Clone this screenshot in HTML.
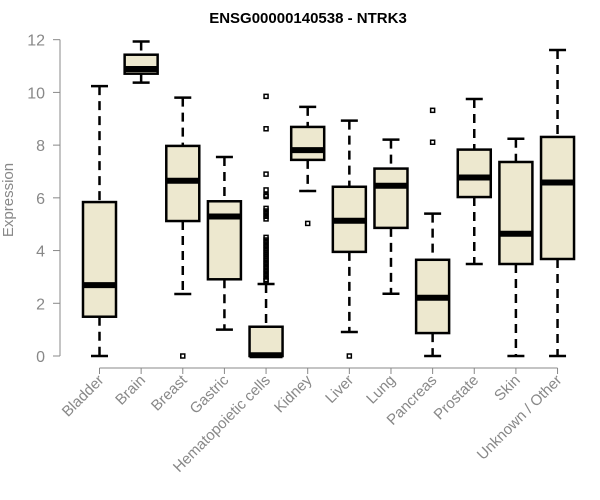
<!DOCTYPE html>
<html><head><meta charset="utf-8"><style>body{margin:0;background:#fff}svg{display:block;font-family:"Liberation Sans",Arial,sans-serif}</style></head>
<body>
<svg id="chart" width="600" height="500" viewBox="0 0 600 500">
<text x="308" y="23" text-anchor="middle" font-size="15" font-weight="bold">ENSG00000140538 - NTRK3</text>
<text transform="translate(13,200) rotate(-90)" text-anchor="middle" font-size="15" fill="#888">Expression</text>
<g id="axes"></g><g id="marks"></g>
</svg>
<script>
const categories=["Bladder","Brain","Breast","Gastric","Hematopoietic cells","Kidney","Liver","Lung","Pancreas","Prostate","Skin","Unknown / Other"];
const mins=[0,10.37,2.35,1.0,0,6.26,0.91,2.36,0,3.49,0,0];
const q1s=[1.49,10.71,5.12,2.91,0,7.44,3.95,4.86,0.87,6.03,3.49,3.68];
const medians=[2.69,10.89,6.65,5.29,0.03,7.81,5.13,6.46,2.21,6.77,4.64,6.58];
const q3s=[5.84,11.43,7.97,5.87,1.11,8.69,6.42,7.11,3.65,7.83,7.36,8.31];
const maxs=[10.24,11.93,9.8,7.55,2.73,9.45,8.93,8.21,5.4,9.75,8.24,11.61];
const outliers=[[],[],[0],[],[9.85,8.62,6.9,6.3,6.1,6.05,5.6,5.5,5.4,5.3,5.2,4.5,4.4,4.3,4.2,4.1,4.0,3.9,3.8,3.7,3.6,3.5,3.4,3.3,3.2,3.1,3.0,2.9,2.85],[5.03],[0],[],[9.32,8.11],[],[],[]];
const yTicks=[0,2,4,6,8,10,12];
const NS="http://www.w3.org/2000/svg";
const y=v=>356-v*26.36;
const x=i=>99.5+i*41.64;
function mk(tag,attrs,parent){const e=document.createElementNS(NS,tag);for(const k in attrs)e.setAttribute(k,attrs[k]);parent.appendChild(e);return e;}
const axes=document.getElementById('axes'),marks=document.getElementById('marks');
const ya=mk('line',{x1:60,x2:60,y1:y(12),y2:y(0),stroke:'#888'},axes);


yTicks.forEach(t=>{
 const tk=mk('line',{x1:53,x2:60,y1:y(t),y2:y(t),stroke:'#888'},axes);
 
 
 const tl=mk('text',{x:45,y:y(t)+6,'text-anchor':'end','font-size':16,fill:'#888'},axes);
 tl.textContent=t;
 
 
});
const xa=mk('line',{x1:x(0),x2:x(11),y1:368,y2:368,stroke:'#888'},axes);


categories.forEach((c,i)=>{
 const cx=x(i);
 const tk=mk('line',{x1:cx,x2:cx,y1:368,y2:374,stroke:'#888'},axes);
 
 
 const tl=mk('text',{x:cx+5,y:381,'text-anchor':'end','font-size':15,fill:'#888',transform:`rotate(-45 ${cx+5} 381)`},axes);
 tl.textContent=c;
 
 
 const g=mk('g',{},marks);
 
 
 const hw=16.5,cw=8.5;
 mk('line',{x1:cx,x2:cx,y1:y(maxs[i]),y2:y(q3s[i]),stroke:'#000','stroke-width':2.5,'stroke-dasharray':'9,6'},g);
 mk('line',{x1:cx,x2:cx,y1:y(q1s[i]),y2:y(mins[i]),stroke:'#000','stroke-width':2.5,'stroke-dasharray':'9,6'},g);
 mk('line',{x1:cx-cw,x2:cx+cw,y1:y(maxs[i]),y2:y(maxs[i]),stroke:'#000','stroke-width':2.5},g);
 mk('line',{x1:cx-cw,x2:cx+cw,y1:y(mins[i]),y2:y(mins[i]),stroke:'#000','stroke-width':2.5},g);
 mk('rect',{x:cx-hw,y:y(q3s[i]),width:2*hw,height:Math.max(0,y(q1s[i])-y(q3s[i])),fill:'#ede8cf',stroke:'#000','stroke-width':2.5},g);
 mk('line',{x1:cx-hw,x2:cx+hw,y1:y(medians[i]),y2:y(medians[i]),stroke:'#000','stroke-width':6},g);
 outliers[i].forEach(v=>{
  const o=mk('rect',{x:cx-2,y:y(v)-2,width:4,height:4,fill:'none',stroke:'#000','stroke-width':1.5},g);
  
  
 });
});
</script>
</body></html>
